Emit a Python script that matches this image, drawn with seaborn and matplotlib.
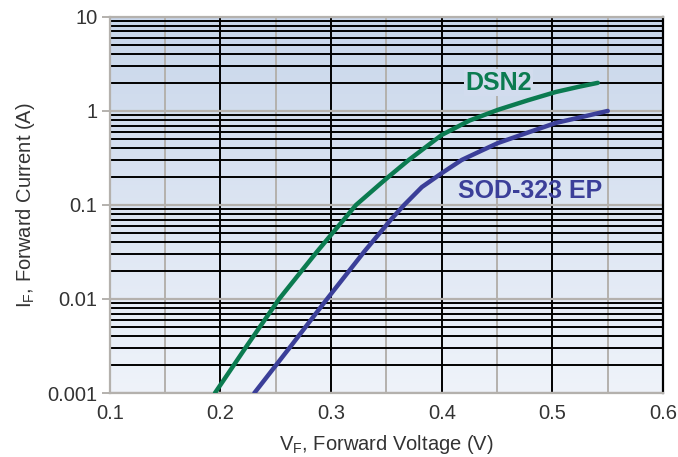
import numpy as np
import pandas as pd
import matplotlib
matplotlib.use("Agg")
import matplotlib.pyplot as plt
from matplotlib.ticker import LogLocator, MultipleLocator, NullFormatter
from matplotlib.colors import LinearSegmentedColormap
import seaborn as sns

# Forward voltage (V) / forward current (A)
dsn2_vf = [0.195, 0.224, 0.253, 0.271, 0.287, 0.298, 0.3225, 0.345, 0.352, 0.370,
           0.400, 0.425, 0.451, 0.478, 0.503, 0.525, 0.541]
dsn2_if = [0.001, 0.0032, 0.010, 0.0184, 0.0316, 0.0452, 0.100, 0.170, 0.200, 0.300,
           0.556, 0.790, 1.03, 1.30, 1.59, 1.82, 1.99]

sod_vf = [0.2306, 0.264, 0.296, 0.330, 0.355, 0.366, 0.382, 0.400, 0.418, 0.435,
          0.451, 0.478, 0.503, 0.527, 0.550]
sod_if = [0.001, 0.0032, 0.0099, 0.032, 0.072, 0.100, 0.155, 0.218, 0.301, 0.374,
          0.457, 0.590, 0.745, 0.865, 1.0]

colors = {"DSN2": "#0b7b50", "SOD-323 EP": "#3b3f99"}

x_ticks = [0.1, 0.2, 0.3, 0.4, 0.5, 0.6]
y_ticks = [0.001, 0.01, 0.1, 1, 10]
y_labels = ["0.001", "0.01", "0.1", "1", "10"]

df = pd.concat([
    pd.DataFrame({"VF": dsn2_vf, "IF": dsn2_if, "device": "DSN2"}),
    pd.DataFrame({"VF": sod_vf, "IF": sod_if, "device": "SOD-323 EP"}),
])

sns.set_style("white")
plt.rcParams["font.family"] = ["Liberation Sans", "DejaVu Sans"]
plt.rcParams["mathtext.fontset"] = "custom"
plt.rcParams["mathtext.rm"] = "Liberation Sans"

grey = "#b4b1ad"
text_col = "#333333"

fig = plt.figure(figsize=(6.78, 4.57), dpi=100)
ax = fig.add_axes([0.162, 0.140, 0.816, 0.823])

# background gradient (blue on top, almost white at bottom)
cmap = LinearSegmentedColormap.from_list("bg", ["#eff3fa", "#c8d6ea"])
grad = np.linspace(0, 1, 256).reshape(-1, 1)
ax.imshow(grad, cmap=cmap, aspect="auto", extent=[0, 1, 0, 1],
          transform=ax.transAxes, origin="lower", zorder=0)

sns.lineplot(data=df, x="VF", y="IF", hue="device", palette=colors,
             linewidth=3.2, legend=False, ax=ax, sort=False, zorder=3)
for ln in ax.lines:
    ln.set_solid_joinstyle("round")

ax.set_yscale("log")
ax.set_xlim(0.1, 0.6)
ax.set_ylim(0.001, 10)

ax.xaxis.set_minor_locator(MultipleLocator(0.05))
ax.yaxis.set_minor_locator(LogLocator(base=10, subs=np.arange(2, 10)))
ax.yaxis.set_minor_formatter(NullFormatter())
ax.set_xticks(x_ticks)
ax.set_xticklabels([f"{v:.1f}" for v in x_ticks])
ax.set_yticks(y_ticks)
ax.set_yticklabels(y_labels)

ax.set_axisbelow(True)
ax.xaxis.grid(True, which="major", color="black", linewidth=1.4)
ax.xaxis.grid(True, which="minor", color=grey, linewidth=1.4)
ax.yaxis.grid(True, which="minor", color="black", linewidth=1.4)
ax.yaxis.grid(True, which="major", color=grey, linewidth=1.6)

ax.tick_params(axis="x", which="both", length=0, pad=8, labelsize=14.5, labelcolor=text_col)
ax.tick_params(axis="y", which="major", length=6, width=1.4, color=grey, pad=3,
               labelsize=14.5, labelcolor=text_col, left=True)
ax.tick_params(axis="y", which="minor", length=0)

for side in ["left", "bottom", "top"]:
    ax.spines[side].set_color(grey)
    ax.spines[side].set_linewidth(1.6)
    ax.spines[side].set_visible(True)
ax.spines["right"].set_color("black")
ax.spines["right"].set_linewidth(1.6)
ax.spines["right"].set_visible(True)

ax.set_xlabel(r"V$_\mathregular{F}$, Forward Voltage (V)", fontsize=14.5, color=text_col, labelpad=7)
ax.set_ylabel(r"I$_\mathregular{F}$, Forward Current (A)", fontsize=14.5, color=text_col, labelpad=7)

ax.text(0.4514, 2.0, "DSN2", color=colors["DSN2"], fontsize=18, fontweight="bold",
        ha="center", va="center", zorder=4,
        bbox=dict(facecolor="#d2dcee", edgecolor="none", pad=1.0))
ax.text(0.48, 0.142, "SOD-323 EP", color=colors["SOD-323 EP"], fontsize=18, fontweight="bold",
        ha="center", va="center", zorder=4)

fig.savefig("out.png", dpi=100)
